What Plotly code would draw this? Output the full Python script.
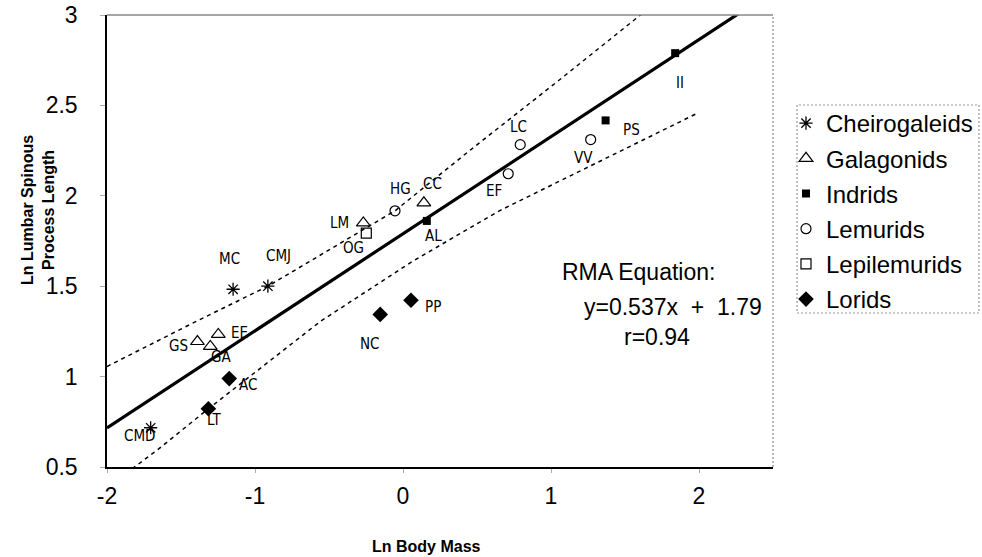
import plotly.graph_objects as go

# ---------------- data ----------------
cheiro_x = [-1.148, -0.913, -1.705]
cheiro_y = [1.483, 1.500, 0.717]
cheiro_lab = ["MC", "CMJ", "CMD"]

galago_x = [-1.389, -1.302, -1.248, -0.268, 0.141]
galago_y = [1.194, 1.167, 1.233, 1.850, 1.961]
galago_lab = ["GS", "GA", "EE", "OG", "CC"]

indrid_x = [0.161, 1.369, 1.839]
indrid_y = [1.861, 2.417, 2.789]
indrid_lab = ["AL", "PS", "II"]

lemurid_x = [-0.054, 0.711, 0.792, 1.268]
lemurid_y = [1.917, 2.122, 2.283, 2.311]
lemurid_lab = ["HG", "EF", "LC", "VV"]

lepil_x = [-0.248]
lepil_y = [1.794]
lepil_lab = ["LM"]

lorid_x = [-1.174, -1.315, -0.154, 0.054]
lorid_y = [0.989, 0.822, 1.344, 1.422]
lorid_lab = ["AC", "LT", "NC", "PP"]

rma_slope = 0.537
rma_intercept = 1.79
rma_x = [-2.0, 2.5]

upper_x = [-2.0, -1.396, -0.913, -0.054, 0.450, 1.054, 1.604, 1.65]
upper_y = [1.056, 1.306, 1.500, 1.917, 2.250, 2.639, 3.000, 3.03]
lower_x = [-1.83, -1.651, -1.315, -0.557, 0.067, 0.651, 1.987]
lower_y = [0.49, 0.600, 0.822, 1.306, 1.639, 1.917, 2.456]

x_ticks = [-2, -1, 0, 1, 2]
x_tick_text = ["-2", "-1", "0", "1", "2"]
y_ticks = [0.5, 1, 1.5, 2, 2.5, 3]
y_tick_text = ["0.5", "1", "1.5", "2", "2.5", "3"]

# label offsets in pixels (dx, dy up)
label_offsets = {
    "MC": (-4, 30), "CMJ": (11, 30), "CMD": (-11, -8),
    "GS": (-19, -4), "GA": (11, -11), "EE": (21, 1), "OG": (-10, -25), "CC": (9, 19),
    "AL": (7, -15), "PS": (26, -10), "II": (5, -30),
    "HG": (5, 22), "EF": (-14, -17), "LC": (-2, 18), "VV": (-7, -18),
    "LM": (-27, 10),
    "AC": (19, -6), "LT": (6, -11), "NC": (-10, -30), "PP": (22, -7),
}

FONT = "Liberation Sans, Arial, sans-serif"
NARROW = "Liberation Sans Narrow, Arial Narrow, DejaVu Sans Condensed, Liberation Sans, sans-serif"

# figure fills the whole window (body margin removed below)
W, H = 982, 557
# plot area in pixels
L, R, T, B = 107, 773, 15, 467
PW, PH = R - L, B - T


def px(xs):
    return (xs - L) / PW


def py(ys):
    return (B - ys) / PH


fig = go.Figure()

# bands and regression line
fig.add_trace(go.Scatter(x=upper_x, y=upper_y, mode="lines", showlegend=False,
                         line=dict(color="black", width=1.5, dash="4px,4px"), hoverinfo="skip"))
fig.add_trace(go.Scatter(x=lower_x, y=lower_y, mode="lines", showlegend=False,
                         line=dict(color="black", width=1.5, dash="4px,4px"), hoverinfo="skip"))
fig.add_trace(go.Scatter(x=rma_x, y=[rma_slope * v + rma_intercept for v in rma_x], mode="lines",
                         showlegend=False, line=dict(color="black", width=3.2), hoverinfo="skip"))

groups = [
    ("Cheirogaleids", cheiro_x, cheiro_y, cheiro_lab, dict(symbol="asterisk-open", size=11, line=dict(color="black", width=1.3), color="black")),
    ("Galagonids", galago_x, galago_y, galago_lab, dict(symbol="triangle-up-open", size=12, line=dict(color="black", width=1.2), color="black")),
    ("Indrids", indrid_x, indrid_y, indrid_lab, dict(symbol="square", size=8, color="black", line=dict(width=0))),
    ("Lemurids", lemurid_x, lemurid_y, lemurid_lab, dict(symbol="circle-open", size=10, line=dict(color="black", width=1.2), color="black")),
    ("Lepilemurids", lepil_x, lepil_y, lepil_lab, dict(symbol="square-open", size=10, line=dict(color="black", width=1.2), color="black")),
    ("Lorids", lorid_x, lorid_y, lorid_lab, dict(symbol="diamond", size=12, color="black", line=dict(width=0))),
]

for name, xs, ys, labs, mk in groups:
    fig.add_trace(go.Scatter(x=xs, y=ys, mode="markers", name=name, marker=mk,
                             legendgroup=name))
    for x, y, lab in zip(xs, ys, labs):
        dx, dy = label_offsets[lab]
        fig.add_annotation(x=x, y=y, text=lab, showarrow=False, xshift=dx, yshift=dy,
                           xanchor="center", yanchor="middle",
                           font=dict(family=NARROW, size=15, color="black"))


def paper_text(text, xs, ys, size, angle=0):
    fig.add_annotation(xref="paper", yref="paper", x=px(xs), y=py(ys), text=text,
                       showarrow=False, xanchor="center", yanchor="middle", textangle=angle,
                       font=dict(family=FONT, size=size, color="black"))


# RMA text
paper_text("RMA Equation:", 638, 272, 23)
paper_text("y=0.537x\u00a0 +\u00a0 1.79", 673, 307, 23)
paper_text("r=0.94", 657, 337, 23)

# axis titles
paper_text("<b>Ln Body Mass</b>", 426, 546, 16)
paper_text("<b>Ln Lumbar Spinous<br>Process Length</b>", 38, 210, 16, angle=-90)

# frame top/right and legend box
fig.add_shape(type="line", xref="paper", yref="paper", x0=0, x1=1, y0=1, y1=1,
              line=dict(color="#888888", width=1.5))
fig.add_shape(type="line", xref="paper", yref="paper", x0=1, x1=1, y0=0, y1=1,
              line=dict(color="#888888", width=1.2, dash="2px,2px"))
fig.add_shape(type="rect", xref="paper", yref="paper",
              x0=px(797), x1=px(979), y0=py(313), y1=py(105),
              line=dict(color="#999999", width=1.2, dash="2px,2px"))

fig.update_layout(
    width=W, height=H,
    margin=dict(l=L, r=W - R, t=T, b=H - B, autoexpand=False),
    paper_bgcolor="white", plot_bgcolor="white",
    font=dict(family=FONT, color="black"),
    showlegend=True,
    legend=dict(x=px(786), y=py(101), xanchor="left", yanchor="top",
                font=dict(family=FONT, size=24, color="black"), bgcolor="rgba(0,0,0,0)",
                borderwidth=0, tracegroupgap=1, itemwidth=30),
    xaxis=dict(range=[-2, 2.5], tickvals=x_ticks, ticktext=x_tick_text, showgrid=False, zeroline=False,
               showline=True, linecolor="black", linewidth=1.5, automargin=False,
               ticks="outside", ticklen=4, tickcolor="#aaaaaa", ticklabeloverflow="allow",
               tickfont=dict(family=FONT, size=23, color="black"), ticklabelstandoff=4),
    yaxis=dict(range=[0.5, 3], tickvals=y_ticks, ticktext=y_tick_text, showgrid=False, zeroline=False,
               showline=True, linecolor="black", linewidth=1.5, automargin=False,
               ticks="outside", ticklen=5, tickcolor="#aaaaaa", ticklabeloverflow="allow",
               tickfont=dict(family=FONT, size=23, color="black"), ticklabelstandoff=18),
)

fig.write_html("out.html", config={"displayModeBar": False},
               post_script="document.body.style.margin='0';document.body.style.overflow='hidden';")
